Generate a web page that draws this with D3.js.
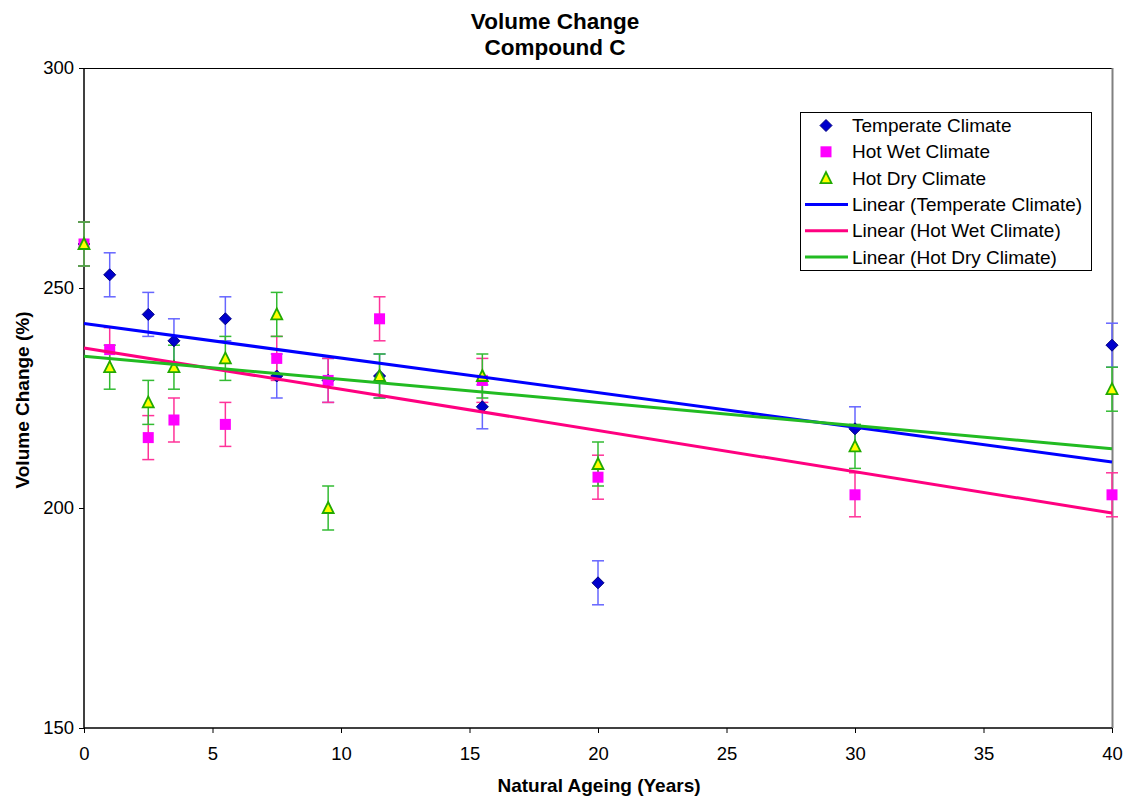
<!DOCTYPE html>
<html><head><meta charset="utf-8">
<script src="https://cdn.jsdelivr.net/npm/d3@7"></script>
<style>body{margin:0;background:#fff}svg{display:block;font-family:"Liberation Sans",Arial,sans-serif}</style>
</head><body><svg id="c" width="1127" height="798"></svg>
<script>
const years = [0, 1, 2.5, 3.5, 5.5, 7.5, 9.5, 11.5, 15.5, 20, 30, 40];
const temperate = [260, 253, 244, 238, 243, 230, 229, 230, 223, 183, 218, 237];
const hotWet = [260, 236, 216, 220, 219, 234, 229, 243, 229, 207, 203, 203];
const hotDry = [260, 232, 224, 232, 234, 244, 200, 230, 230, 210, 214, 227];
const errorAmount = [5, 5, 5, 5, 5, 5, 5, 5, 5, 5, 5, 5];
const xTicks = [0, 5, 10, 15, 20, 25, 30, 35, 40];
const yTicks = [150, 200, 250, 300];
const seriesNames = ["Temperate Climate", "Hot Wet Climate", "Hot Dry Climate"];

const svg = d3.select("#c");
const L = 84, R = 1112, T = 68, B = 728;
const x = d3.scaleLinear().domain([0, 40]).range([L, R]);
const y = d3.scaleLinear().domain([150, 300]).range([B, T]);

const series = [
  {name: seriesNames[0], vals: temperate, marker: "diamond", fill: "#0000cc", stroke: "#000080", err: "#6666ff", trend: "#0000ff"},
  {name: seriesNames[1], vals: hotWet, marker: "square", fill: "#ff00ff", stroke: "#ff00ff", err: "#ff3399", trend: "#ff0080"},
  {name: seriesNames[2], vals: hotDry, marker: "triangle", fill: "#ffff00", stroke: "#22aa00", err: "#33bb33", trend: "#22bb22"}
];

// plot border (top black, right grey)
svg.append("line").attr("x1", L).attr("x2", R).attr("y1", T + 0.5).attr("y2", T + 0.5).attr("stroke", "#000").attr("stroke-width", 1);
svg.append("line").attr("x1", R + 0.5).attr("x2", R + 0.5).attr("y1", T).attr("y2", B).attr("stroke", "#808080").attr("stroke-width", 2);

// axes
const yAxis = d3.axisLeft(y).tickValues(yTicks).tickSize(5).tickPadding(5);
const gy = svg.append("g").attr("transform", `translate(${L},0)`).call(yAxis);
const xAxis = d3.axisBottom(x).tickValues(xTicks).tickSize(5).tickPadding(14);
const gx = svg.append("g").attr("transform", `translate(0,${B})`).call(xAxis);
[gx, gy].forEach(g => {
  g.selectAll("path").attr("stroke", "#000").attr("stroke-width", 1.5);
  g.selectAll("line").attr("stroke", "#000");
  g.selectAll("text").attr("font-size", 18.5).attr("fill", "#000").attr("font-family", "Liberation Sans, Arial");
});
gy.select("path").attr("d", `M0,${T}V${B}`);
gx.select("path").attr("d", `M${L},0H${R}`);

// regression helper (linear trendline)
function fit(xs, ys) {
  const mx = d3.mean(xs), my = d3.mean(ys);
  let sxy = 0, sxx = 0;
  xs.forEach((v, i) => { sxy += (v - mx) * (ys[i] - my); sxx += (v - mx) ** 2; });
  const m = sxy / sxx;
  return {m, b: my - m * mx};
}

const plot = svg.append("g");
// error bars
series.forEach(s => {
  const g = plot.append("g");
  years.forEach((yr, i) => {
    const cx = x(yr), v = s.vals[i], e = errorAmount[i];
    g.append("line").attr("x1", cx).attr("x2", cx).attr("y1", y(v + e)).attr("y2", y(v - e)).attr("stroke", s.err).attr("stroke-width", 1.5);
    [v + e, v - e].forEach(t => g.append("line").attr("x1", cx - 6).attr("x2", cx + 6).attr("y1", y(t)).attr("y2", y(t)).attr("stroke", s.err).attr("stroke-width", 1.5));
  });
});

function drawMarker(g, type, cx, cy, s) {
  if (type === "diamond") {
    g.append("path").attr("d", `M${cx},${cy-6}L${cx+6},${cy}L${cx},${cy+6}L${cx-6},${cy}Z`).attr("fill", s.fill).attr("stroke", s.stroke).attr("stroke-width", 1);
  } else if (type === "square") {
    g.append("rect").attr("x", cx - 5.5).attr("y", cy - 5.5).attr("width", 11).attr("height", 11).attr("fill", s.fill);
  } else {
    g.append("path").attr("d", `M${cx},${cy-6}L${cx+5.5},${cy+5}L${cx-5.5},${cy+5}Z`).attr("fill", s.fill).attr("stroke", s.stroke).attr("stroke-width", 1.8);
  }
}

// markers
series.forEach(s => {
  const g = plot.append("g");
  years.forEach((yr, i) => drawMarker(g, s.marker, x(yr), y(s.vals[i]), s));
});

// trend lines
series.forEach(s => {
  const f = fit(years, s.vals);
  plot.append("line").attr("x1", x(0)).attr("x2", x(40)).attr("y1", y(f.b)).attr("y2", y(f.b + f.m * 40))
    .attr("stroke", s.trend).attr("stroke-width", 3);
});

// titles
const title = svg.append("text").attr("text-anchor", "middle").attr("font-weight", "bold").attr("font-size", 22.5);
title.append("tspan").attr("x", 555).attr("y", 29).text("Volume Change");
title.append("tspan").attr("x", 555).attr("y", 55).text("Compound C");
svg.append("text").attr("x", 599).attr("y", 792).attr("text-anchor", "middle").attr("font-weight", "bold").attr("font-size", 19).text("Natural Ageing (Years)");
svg.append("text").attr("transform", "translate(29,400) rotate(-90)").attr("text-anchor", "middle").attr("font-weight", "bold").attr("font-size", 19).text("Volume Change (%)");

// legend
const lg = svg.append("g");
lg.append("rect").attr("x", 800.5).attr("y", 112.5).attr("width", 291).attr("height", 158).attr("fill", "#fff").attr("stroke", "#000").attr("stroke-width", 1);
const rowY = i => 125.5 + i * 26.3;
series.forEach((s, i) => {
  drawMarker(lg, s.marker, 826, rowY(i), s);
  lg.append("text").attr("x", 852).attr("y", rowY(i) + 6.5).attr("font-size", 19).text(s.name);
});
series.forEach((s, i) => {
  const ry = rowY(i + 3);
  lg.append("line").attr("x1", 805).attr("x2", 848).attr("y1", ry).attr("y2", ry).attr("stroke", s.trend).attr("stroke-width", 3);
  lg.append("text").attr("x", 852).attr("y", ry + 6.5).attr("font-size", 19).text(`Linear (${s.name})`);
});
</script></body></html>
